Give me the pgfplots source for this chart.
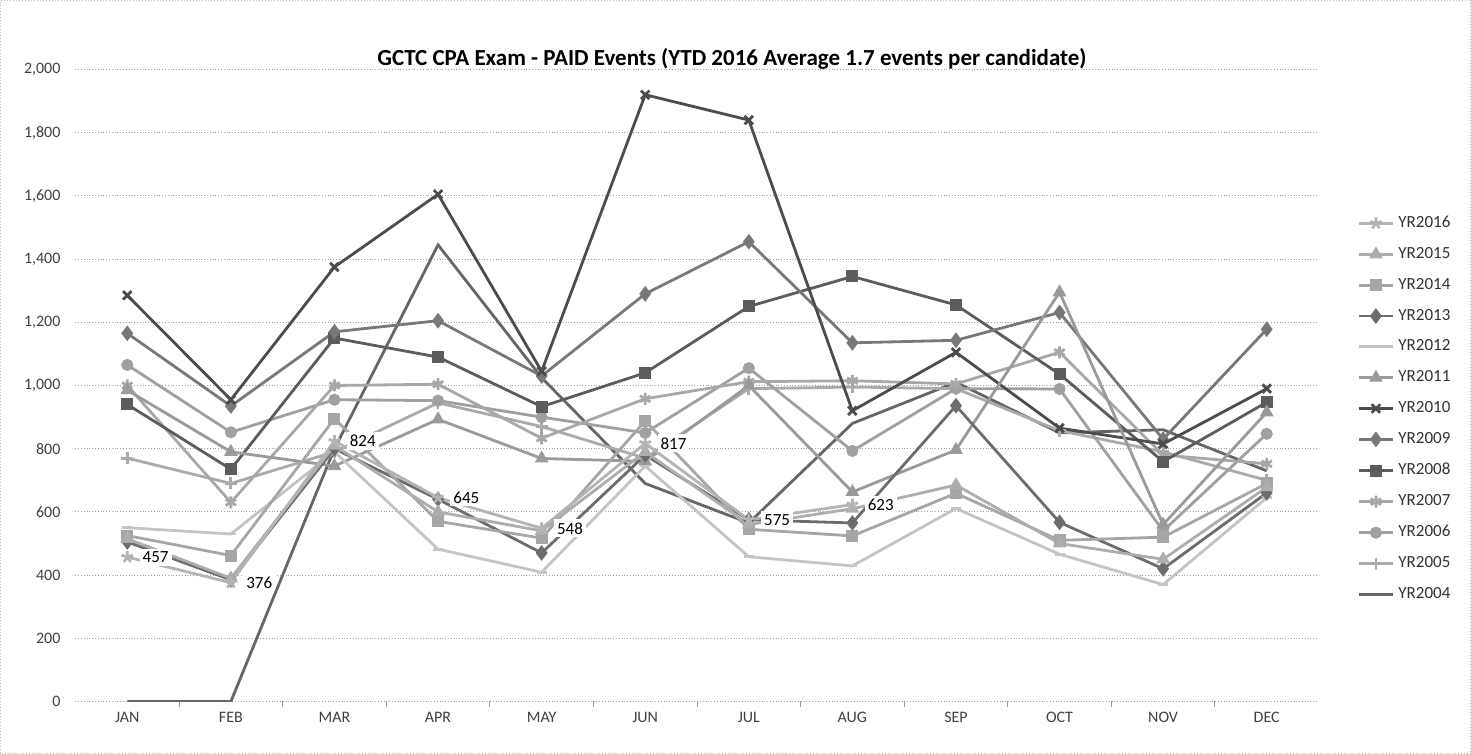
\documentclass[border=0pt]{standalone}
\usepackage{fontspec}
\setmainfont{Carlito}
\usepackage{pgfplots}
\pgfplotsset{compat=1.18}
\definecolor{c2016}{HTML}{B4B4B4}
\definecolor{c2015}{HTML}{ADADAD}
\definecolor{c2014}{HTML}{A6A6A6}
\definecolor{c2013}{HTML}{6C6C6C}
\definecolor{c2012}{HTML}{C4C4C4}
\definecolor{c2011}{HTML}{9A9A9A}
\definecolor{c2010}{HTML}{4C4C4C}
\definecolor{c2009}{HTML}{787878}
\definecolor{c2008}{HTML}{5C5C5C}
\definecolor{c2007}{HTML}{A8A8A8}
\definecolor{c2006}{HTML}{A0A0A0}
\definecolor{c2005}{HTML}{AAAAAA}
\definecolor{c2004}{HTML}{666666}
\begin{document}
\begin{tikzpicture}
\draw[gray!55, densely dotted, line width=0.5pt] (-37.5pt,-26pt) rectangle (697.5pt,350.5pt);
\begin{axis}[
  at={(0,0)}, anchor=south west,
  scale only axis, width=621.5pt, height=316pt,
  xmin=-0.5, xmax=11.5, ymin=0, ymax=2000,
  xtick={0,...,11},
  xticklabels={JAN,FEB,MAR,APR,MAY,JUN,JUL,AUG,SEP,OCT,NOV,DEC},
  ytick={0,200,...,2000},
  scaled y ticks=false,
  ymajorgrids,
  grid style={gray!75, densely dotted, line width=0.5pt},
  major tick length=0pt,
  extra x ticks={0.5,1.5,...,10.5},
  extra x tick labels={},
  extra x tick style={major tick length=3pt, tick align=outside, grid=none, tick style={gray!80, line width=0.5pt}},
  xtick pos=left, ytick pos=left,
  axis line style={draw=none},
  tick label style={font=\fontsize{8}{9}\selectfont, text=black!75},
  yticklabel style={xshift=-4pt},
  xticklabel style={yshift=-2pt},
  /pgf/number format/.cd, 1000 sep={,}, assume math mode=true, /pgfplots/.cd,
  title={GCTC CPA Exam - PAID Events (YTD 2016 Average 1.7 events per candidate)},
  title style={at={(0.5,1)}, anchor=south, xshift=17.5pt, yshift=-9.5pt, font=\bfseries\fontsize{11.5}{13}\selectfont},
  legend style={draw=none, fill=none, at={(1.031,0.775)}, anchor=north west, inner sep=0pt, row sep=4.4pt, font=\fontsize{8.5}{10}\selectfont, text=black!80},
  legend cell align=left,
  reverse legend,
  every axis plot/.append style={line width=1.4pt, mark size=2.3pt},
]
\addplot[c2004, mark=none] coordinates {(0,0)(1,0)(2,800)(3,1445)(4,1025)(5,690)(6,565)(7,880)(8,1010)(9,850)(10,860)(11,730)};
\addlegendentry{YR2004}
\addplot[c2005, mark=+, mark size=3pt, mark options={solid}] coordinates {(0,770)(1,690)(2,790)(3,945)(4,870)(5,770)(6,990)(7,995)(8,990)(9,857)(10,790)(11,700)};
\addlegendentry{YR2005}
\addplot[c2006, mark=*, mark options={solid, fill=c2006}] coordinates {(0,1065)(1,852)(2,955)(3,952)(4,900)(5,850)(6,1055)(7,793)(8,990)(9,989)(10,540)(11,847)};
\addlegendentry{YR2006}
\addplot[c2007, mark=asterisk, mark size=3pt, mark options={solid}] coordinates {(0,1000)(1,630)(2,1000)(3,1004)(4,833)(5,958)(6,1012)(7,1015)(8,1005)(9,1105)(10,780)(11,752)};
\addlegendentry{YR2007}
\addplot[c2008, mark=square*, mark options={solid, fill=c2008}] coordinates {(0,940)(1,735)(2,1150)(3,1090)(4,933)(5,1040)(6,1250)(7,1345)(8,1255)(9,1036)(10,759)(11,947)};
\addlegendentry{YR2008}
\addplot[c2009, mark=diamond*, mark size=2.8pt, mark options={solid, fill=c2009}] coordinates {(0,1165)(1,935)(2,1170)(3,1205)(4,1030)(5,1290)(6,1455)(7,1135)(8,1143)(9,1231)(10,830)(11,1178)};
\addlegendentry{YR2009}
\addplot[c2010, mark=x, mark size=3pt, mark options={solid}] coordinates {(0,1285)(1,955)(2,1375)(3,1605)(4,1045)(5,1920)(6,1840)(7,920)(8,1105)(9,865)(10,815)(11,990)};
\addlegendentry{YR2010}
\addplot[c2011, mark=triangle*, mark size=2.6pt, mark options={solid, fill=c2011}] coordinates {(0,985)(1,790)(2,745)(3,893)(4,769)(5,760)(6,1000)(7,663)(8,796)(9,1295)(10,560)(11,915)};
\addlegendentry{YR2011}
\addplot[c2012, mark=-, mark size=2.5pt, mark options={solid}] coordinates {(0,550)(1,530)(2,790)(3,482)(4,409)(5,745)(6,458)(7,429)(8,611)(9,466)(10,370)(11,645)};
\addlegendentry{YR2012}
\addplot[c2013, mark=diamond*, mark size=2.8pt, mark options={solid, fill=c2013}] coordinates {(0,505)(1,385)(2,800)(3,640)(4,470)(5,780)(6,575)(7,565)(8,936)(9,567)(10,420)(11,660)};
\addlegendentry{YR2013}
\addplot[c2014, mark=square*, mark options={solid, fill=c2014}] coordinates {(0,525)(1,462)(2,895)(3,570)(4,517)(5,888)(6,545)(7,524)(8,659)(9,510)(10,520)(11,690)};
\addlegendentry{YR2014}
\addplot[c2015, mark=triangle*, mark size=2.6pt, mark options={solid, fill=c2015}] coordinates {(0,515)(1,390)(2,810)(3,600)(4,540)(5,790)(6,560)(7,610)(8,685)(9,500)(10,450)(11,678)};
\addlegendentry{YR2015}
\addplot[c2016, mark=star, mark size=3pt, mark options={solid},
  nodes near coords,
  nodes near coords style={anchor=west, xshift=5.5pt, fill=white, inner sep=1.5pt, text=black, font=\fontsize{8.5}{10}\selectfont}]
  coordinates {(0,457)(1,376)(2,824)(3,645)(4,548)(5,817)(6,575)(7,623)};
\addlegendentry{YR2016}
\end{axis}
\end{tikzpicture}
\end{document}
